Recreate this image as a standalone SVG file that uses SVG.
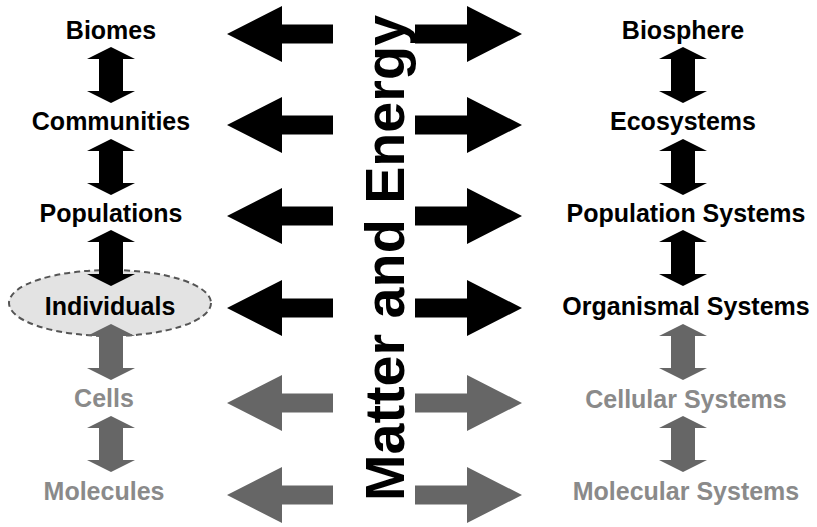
<svg xmlns="http://www.w3.org/2000/svg" width="817" height="527" viewBox="0 0 817 527">
<defs>
<style>
.lbl{font-family:"Liberation Sans",Arial,sans-serif;font-weight:bold;font-size:25px;text-anchor:middle}
.blk{fill:#000}
.gry{fill:#666}
.gtx{fill:#8a8a8a}
</style>
<path id="larr" d="M227,0 L282,-28 L282,-9.5 L333,-9.5 L333,9.5 L282,9.5 L282,28 Z"/>
<path id="rarr" d="M522,0 L467,-28 L467,-9.5 L415,-9.5 L415,9.5 L467,9.5 L467,28 Z"/>
<path id="varr" d="M0,0 L24,12 L12,12 L12,44 L24,44 L0,56 L-24,44 L-12,44 L-12,12 L-24,12 Z"/>
</defs>
<rect width="817" height="527" fill="#fff"/>
<g id="individuals-bg">
<ellipse cx="110" cy="303" rx="101" ry="33" fill="#e3e3e3" stroke="#555" stroke-width="2" stroke-dasharray="6 4"/>
</g>
<g id="connectors">
<use href="#larr" class="blk" transform="translate(0,34)"/>
<use href="#rarr" class="blk" transform="translate(0,34)"/>
<use href="#larr" class="blk" transform="translate(0,125)"/>
<use href="#rarr" class="blk" transform="translate(0,125)"/>
<use href="#larr" class="blk" transform="translate(0,216)"/>
<use href="#rarr" class="blk" transform="translate(0,216)"/>
<use href="#larr" class="blk" transform="translate(0,308)"/>
<use href="#rarr" class="blk" transform="translate(0,308)"/>
<use href="#larr" class="gry" transform="translate(0,403)"/>
<use href="#rarr" class="gry" transform="translate(0,403)"/>
<use href="#larr" class="gry" transform="translate(0,495)"/>
<use href="#rarr" class="gry" transform="translate(0,495)"/>
<use href="#varr" class="blk" transform="translate(111,47)"/>
<use href="#varr" class="blk" transform="translate(111,139)"/>
<use href="#varr" class="blk" transform="translate(111,230)"/>
<use href="#varr" class="gry" transform="translate(111,324)"/>
<use href="#varr" class="gry" transform="translate(111,416)"/>
<use href="#varr" class="blk" transform="translate(683,47)"/>
<use href="#varr" class="blk" transform="translate(683,139)"/>
<use href="#varr" class="blk" transform="translate(683,230)"/>
<use href="#varr" class="gry" transform="translate(683,324)"/>
<use href="#varr" class="gry" transform="translate(683,416)"/>
</g>
<g id="matter-energy">
<text transform="translate(404,258) rotate(-90)" font-family="Liberation Sans, Arial, sans-serif" font-weight="bold" font-size="56" text-anchor="middle" textLength="486" lengthAdjust="spacingAndGlyphs" fill="#000">Matter and Energy</text>
</g>
<g id="biomes"><text class="lbl blk" x="111" y="39">Biomes</text></g>
<g id="communities"><text class="lbl blk" x="111" y="130">Communities</text></g>
<g id="populations"><text class="lbl blk" x="111" y="222">Populations</text></g>
<g id="individuals"><text class="lbl blk" x="110" y="315">Individuals</text></g>
<g id="cells"><text class="lbl gtx" x="104" y="407">Cells</text></g>
<g id="molecules"><text class="lbl gtx" x="104" y="500">Molecules</text></g>
<g id="biosphere"><text class="lbl blk" x="683" y="39">Biosphere</text></g>
<g id="ecosystems"><text class="lbl blk" x="683" y="130">Ecosystems</text></g>
<g id="population-systems"><text class="lbl blk" x="686" y="222">Population Systems</text></g>
<g id="organismal-systems"><text class="lbl blk" x="686" y="315">Organismal Systems</text></g>
<g id="cellular-systems"><text class="lbl gtx" x="686" y="408">Cellular Systems</text></g>
<g id="molecular-systems"><text class="lbl gtx" x="686" y="500">Molecular Systems</text></g>
</svg>
